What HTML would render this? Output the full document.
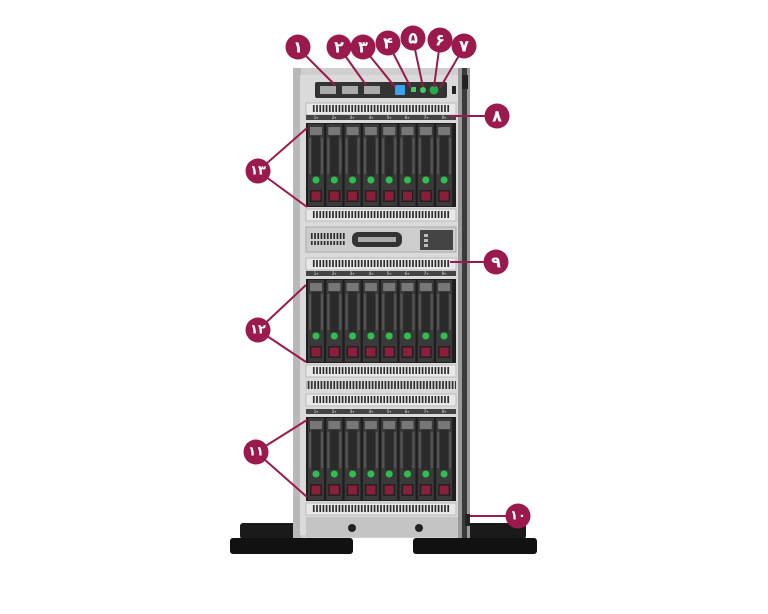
<!DOCTYPE html>
<html><head><meta charset="utf-8"><style>
html,body{margin:0;padding:0;background:#fff;width:768px;height:614px;overflow:hidden}
svg{display:block}
text{font-family:"DejaVu Sans","Liberation Sans",sans-serif;font-weight:bold;fill:#fff;text-anchor:middle;dominant-baseline:central;font-size:16px}
</style></head><body>
<svg width="768" height="614" viewBox="0 0 768 614" xmlns="http://www.w3.org/2000/svg">
<defs>
<pattern id="slots" x="0" y="0" width="3.2" height="10" patternUnits="userSpaceOnUse">
<rect x="0.6" y="1" width="1.6" height="8" fill="#222"/></pattern>
<g id="drive">
<rect x="0" y="0" width="16" height="82" fill="#3a3a3a"/>
<rect x="2" y="3" width="12" height="8" fill="#777"/>
<rect x="4" y="12" width="8" height="40" fill="#2a2a2a"/>
<rect x="1" y="14" width="2" height="36" fill="#555"/>
<rect x="13" y="14" width="2" height="36" fill="#555"/>
<circle cx="8" cy="56" r="3.5" fill="#2fbf4f"/>
<rect x="2" y="66" width="12" height="12" fill="#222"/>
<rect x="3.5" y="67.5" width="9" height="9" fill="#8a1f3c"/>
</g>
<g id="cage">
<rect x="0" y="0" width="150" height="5" fill="#444"/>
<g fill="#999" font-size="4" style="font-weight:normal"><text x="10" y="2.5" style="font-size:4px;fill:#aaa">1▾</text><text x="28" y="2.5" style="font-size:4px;fill:#aaa">2▾</text><text x="46" y="2.5" style="font-size:4px;fill:#aaa">3▾</text><text x="65" y="2.5" style="font-size:4px;fill:#aaa">4▾</text><text x="83" y="2.5" style="font-size:4px;fill:#aaa">5▾</text><text x="101" y="2.5" style="font-size:4px;fill:#aaa">6▾</text><text x="120" y="2.5" style="font-size:4px;fill:#aaa">7▾</text><text x="138" y="2.5" style="font-size:4px;fill:#aaa">8▾</text></g>
<rect x="0" y="8" width="150" height="84" fill="#1e1e1e"/>
<use href="#drive" x="2" y="9"/><use href="#drive" x="20.3" y="9"/><use href="#drive" x="38.6" y="9"/><use href="#drive" x="56.9" y="9"/>
<use href="#drive" x="75.2" y="9"/><use href="#drive" x="93.5" y="9"/><use href="#drive" x="111.8" y="9"/><use href="#drive" x="130.1" y="9"/>
</g>
<g id="vent">
<rect x="0" y="0" width="150" height="12" fill="#e8e8e8" stroke="#bbb"/>
<rect x="6" y="2" width="138" height="8" fill="url(#slots)"/>
</g>
</defs>

<rect x="240" y="523" width="70" height="16" rx="3" fill="#1a1a1a"/>
<rect x="458" y="523" width="68" height="16" rx="3" fill="#1a1a1a"/>
<rect x="293" y="68" width="175" height="470" fill="#cfcfcf"/>
<rect x="293" y="68" width="8" height="470" fill="#b8b8b8"/>
<rect x="458" y="68" width="12" height="470" fill="#9a9a9a"/>
<rect x="462" y="68" width="5" height="470" fill="#3a3a3a"/>
<rect x="300" y="75" width="158" height="460" fill="#dadada"/>
<rect x="315" y="82" width="132" height="16" rx="2" fill="#333"/>
<rect x="320" y="86" width="16" height="8" fill="#aaa"/><rect x="342" y="86" width="16" height="8" fill="#aaa"/><rect x="364" y="86" width="16" height="8" fill="#aaa"/>
<rect x="395" y="85" width="10" height="10" rx="1" fill="#3aa0f0"/>
<rect x="411" y="87" width="5" height="5" fill="#3fcf5f"/><circle cx="423" cy="90" r="3" fill="#3fcf5f"/><circle cx="434" cy="90" r="4.5" fill="#2aa74a"/>
<rect x="452" y="86" width="4" height="8" fill="#222"/><rect x="462" y="75" width="6" height="14" fill="#222"/>
<use href="#vent" x="306" y="103"/>
<use href="#cage" x="306" y="115"/>
<use href="#vent" x="306" y="209"/>
<rect x="306" y="227" width="150" height="25" fill="#cdcdcd" stroke="#aaa"/>
<rect x="310" y="233" width="35" height="12" fill="url(#slots)"/>
<rect x="352" y="232" width="50" height="15" rx="6" fill="#333"/><rect x="358" y="237" width="38" height="5" fill="#aaa"/>
<rect x="420" y="230" width="33" height="20" fill="#444"/>
<rect x="424" y="234" width="4" height="3" fill="#bbb"/><rect x="424" y="239" width="4" height="3" fill="#bbb"/><rect x="424" y="244" width="4" height="3" fill="#bbb"/>
<use href="#vent" x="306" y="258"/>
<use href="#cage" x="306" y="271"/>
<use href="#vent" x="306" y="365"/>
<rect x="306" y="381" width="150" height="10" fill="url(#slots)"/>
<use href="#vent" x="306" y="394"/>
<use href="#cage" x="306" y="409"/>
<use href="#vent" x="306" y="503"/>
<rect x="306" y="517" width="152" height="20" fill="#c4c4c4"/>
<circle cx="352" cy="528" r="4" fill="#222"/><circle cx="419" cy="528" r="4" fill="#222"/>
<rect x="465" y="514" width="5" height="12" fill="#222"/>
<rect x="230" y="538" width="123" height="16" rx="3" fill="#111"/>
<rect x="413" y="538" width="124" height="16" rx="3" fill="#111"/>

<g stroke="#9a1a4e" stroke-width="2" fill="none">
<line x1="300" y1="50" x2="335" y2="85"/>
<line x1="341" y1="50" x2="366" y2="85"/>
<line x1="365" y1="50" x2="395" y2="87"/>
<line x1="389" y1="45" x2="411" y2="88"/>
<line x1="413" y1="40" x2="423" y2="87"/>
<line x1="440" y1="42" x2="434" y2="87"/>
<line x1="464" y1="47" x2="440" y2="88"/>
<line x1="497" y1="116" x2="450" y2="116"/>
<line x1="496" y1="262" x2="450" y2="262"/>
<line x1="518" y1="516" x2="470" y2="516"/>
<polyline points="307,128 258,171 307,207"/>
<polyline points="306,285 258,330 306,362"/>
<polyline points="307,420 256,452 307,497"/>
</g>
<g fill="#9a1a4e">
<circle cx="298" cy="47" r="12.5"/><circle cx="339" cy="47" r="12.5"/><circle cx="363" cy="47" r="12.5"/>
<circle cx="388" cy="43" r="12.5"/><circle cx="413" cy="38" r="12.5"/><circle cx="440" cy="40" r="12.5"/>
<circle cx="464" cy="46" r="12.5"/><circle cx="497" cy="116" r="12.5"/><circle cx="496" cy="262" r="12.5"/>
<circle cx="518" cy="516" r="12.5"/><circle cx="256" cy="452" r="12.5"/><circle cx="258" cy="330" r="12.5"/><circle cx="258" cy="171" r="12.5"/>
</g>
<text x="298" y="47">۱</text><text x="339" y="47">۲</text><text x="363" y="47">۳</text>
<text x="388" y="43">۴</text><text x="413" y="38">۵</text><text x="440" y="40">۶</text>
<text x="464" y="46">۷</text><text x="497" y="116">۸</text><text x="496" y="262">۹</text>
<text x="518" y="516" style="font-size:13px">۱۰</text><text x="256" y="452" style="font-size:13px">۱۱</text>
<text x="258" y="330" style="font-size:13px">۱۲</text><text x="258" y="171" style="font-size:13px">۱۳</text>
</svg>
</body></html>
